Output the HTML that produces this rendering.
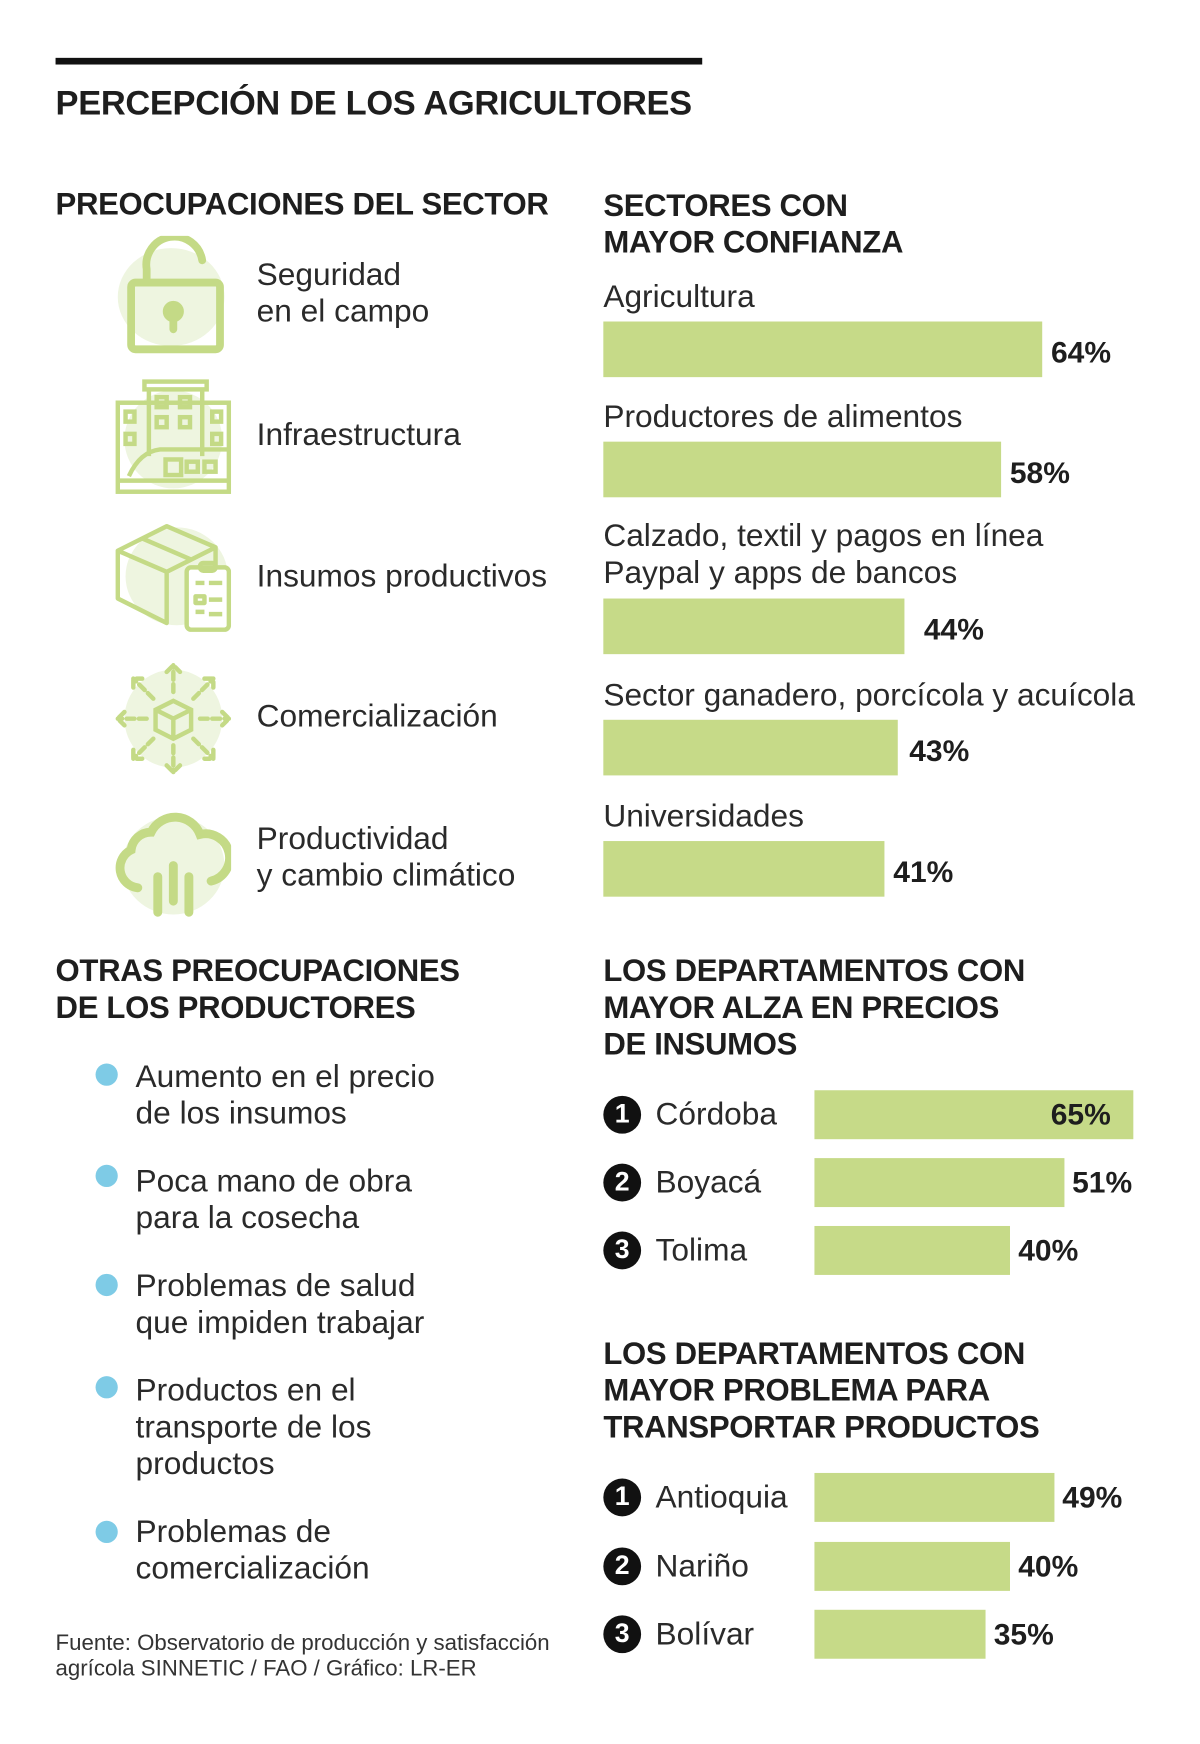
<!DOCTYPE html>
<html><head><meta charset="utf-8">
<style>
html,body{margin:0;padding:0;background:#fff;width:1200px;height:1744px;overflow:hidden}
#wrap{position:absolute;left:0;top:0;width:1080px;height:1560px;transform:scale(1.1111,1.1125);transform-origin:0 0;font-family:"Liberation Sans",sans-serif;color:#1e1e1e}
.t{position:absolute;white-space:nowrap}
.h{font-weight:bold;font-size:28px;line-height:33px;letter-spacing:-0.3px}
.l{font-size:28.5px;line-height:33px;color:#2a2a2a;letter-spacing:0px}
.v{font-weight:bold;font-size:27px;line-height:30px}
.bar{position:absolute;background:#c6da88}
.dot{position:absolute;width:20px;height:20px;border-radius:50%;background:#7ecbe6}
.num{position:absolute;width:34px;height:34px;border-radius:50%;background:#111;color:#fff;font-weight:bold;font-size:24px;line-height:34px;text-align:center}
svg.ic{position:absolute}
</style></head><body>
<div id="wrap">
<div style="position:absolute;left:50px;top:52px;width:582px;height:6px;background:#111"></div>
<div class="t h" style="left:50px;top:76px;font-size:31px">PERCEPCIÓN DE LOS AGRICULTORES</div>
<div class="t h" style="left:50px;top:167px">PREOCUPACIONES DEL SECTOR</div>

<svg class="ic" style="left:104px;top:212px" width="104" height="108" viewBox="0 0 104 108" fill="none" stroke="#c4da86" stroke-width="7" stroke-linecap="round">
<ellipse cx="50" cy="55" rx="48" ry="44" fill="#eef5e0" stroke="none"/>
<path d="M28 42 V30 A25 25 0 0 1 78 22"/><rect x="14" y="42" width="80" height="60" rx="4"/><circle cx="52" cy="68" r="6" fill="#c4da86"/><path d="M52 72 V84"/></svg>
<div class="t l" style="left:231px;top:231px">Seguridad<br>en el campo</div>

<svg class="ic" style="left:104px;top:340px" width="104" height="104" viewBox="0 0 104 104" fill="none" stroke="#c4da86" stroke-width="4">
<ellipse cx="52" cy="55" rx="44" ry="44" fill="#eef5e0" stroke="none"/>
<rect x="26" y="3" width="56" height="7"/><path d="M30 10 V70 M78 10 V70"/><rect x="2" y="22" width="100" height="80"/><path d="M2 92 H102"/>
<rect x="37" y="17" width="9" height="9"/><rect x="58" y="17" width="9" height="9"/><rect x="37" y="35" width="9" height="9"/><rect x="58" y="35" width="9" height="9"/>
<rect x="9" y="30" width="8" height="9"/><rect x="9" y="50" width="8" height="9"/><rect x="87" y="30" width="8" height="9"/><rect x="87" y="50" width="8" height="9"/>
<path d="M12 88 Q22 66 40 64 H102"/><rect x="45" y="73" width="14" height="14"/><rect x="64" y="75" width="10" height="9"/><rect x="80" y="75" width="10" height="9"/></svg>
<div class="t l" style="left:231px;top:375px">Infraestructura</div>

<svg class="ic" style="left:104px;top:470px" width="104" height="100" viewBox="0 0 104 100" fill="none" stroke="#c4da86" stroke-width="4" stroke-linejoin="round">
<ellipse cx="55" cy="48" rx="46" ry="44" fill="#eef5e0" stroke="none"/>
<path d="M2 25 L46 3 L90 22 L46 44 Z M2 25 V68 L46 90 V44 M90 22 V38 M24 14 L68 33"/>
<rect x="64" y="40" width="38" height="56" rx="4" fill="#fff"/><rect x="76" y="36" width="14" height="7" rx="3"/>
<path d="M72 54 h8 M84 54 h12 M72 66 h8 v6 h-8z M84 69 h12 M72 80 h8 M84 82 h12"/></svg>
<div class="t l" style="left:231px;top:502px">Insumos productivos</div>

<svg class="ic" style="left:104px;top:594px" width="104" height="104" viewBox="0 0 104 104" fill="none" stroke="#c4da86" stroke-width="4" stroke-linecap="round">
<ellipse cx="52" cy="52" rx="44" ry="44" fill="#eef5e0" stroke="none"/>
<path d="M36 44 L52 36 L68 44 V62 L52 70 L36 62 Z M36 44 L52 52 L68 44 M52 52 V70"/>
<path d="M52 28 V4 M46 10 L52 4 L58 10 M52 76 V100 M46 94 L52 100 L58 94 M28 52 H2 M8 46 L2 52 L8 58 M76 52 H102 M96 46 L102 52 L96 58 M34 34 L16 16 M16 24 V16 H24 M70 34 L88 16 M80 16 H88 V24 M34 70 L16 88 M16 80 V88 H24 M70 70 L88 88 M88 80 V88 H80" stroke-dasharray="7 4"/></svg>
<div class="t l" style="left:231px;top:628px">Comercialización</div>

<svg class="ic" style="left:104px;top:718px" width="104" height="108" viewBox="0 0 104 108" fill="none" stroke="#c4da86" stroke-width="8" stroke-linecap="round">
<ellipse cx="52" cy="60" rx="46" ry="44" fill="#eef5e0" stroke="none"/>
<path d="M20 80 A18 18 0 0 1 14 46 A18 18 0 0 1 32 30 A24 24 0 0 1 76 32 A20 20 0 0 1 86 74"/>
<path d="M38 70 V102 M52 60 V92 M66 70 V102"/></svg>
<div class="t l" style="left:231px;top:738px">Productividad<br>y cambio climático</div>

<div class="t h" style="left:50px;top:856px">OTRAS PREOCUPACIONES<br>DE LOS PRODUCTORES</div>
<div class="dot" style="left:86px;top:956px"></div>
<div class="t l" style="left:122px;top:952px">Aumento en el precio<br>de los insumos</div>
<div class="dot" style="left:86px;top:1047px"></div>
<div class="t l" style="left:122px;top:1046px">Poca mano de obra<br>para la cosecha</div>
<div class="dot" style="left:86px;top:1145px"></div>
<div class="t l" style="left:122px;top:1140px">Problemas de salud<br>que impiden trabajar</div>
<div class="dot" style="left:86px;top:1237px"></div>
<div class="t l" style="left:122px;top:1234px">Productos en el<br>transporte de los<br>productos</div>
<div class="dot" style="left:86px;top:1367px"></div>
<div class="t l" style="left:122px;top:1361px">Problemas de<br>comercialización</div>
<div class="t" style="left:50px;top:1466px;font-size:20px;line-height:23px;color:#333">Fuente: Observatorio de producción y satisfacción<br>agrícola SINNETIC / FAO / Gráfico: LR-ER</div>

<div class="t h" style="left:543px;top:168px">SECTORES CON<br>MAYOR CONFIANZA</div>
<div id="trust"></div>
<div class="t h" style="left:543px;top:856px">LOS DEPARTAMENTOS CON<br>MAYOR ALZA EN PRECIOS<br>DE INSUMOS</div>
<div id="prices"></div>
<div class="t h" style="left:543px;top:1200px">LOS DEPARTAMENTOS CON<br>MAYOR PROBLEMA PARA<br>TRANSPORTAR PRODUCTOS</div>
<div id="transport"></div>
</div>
<script>
const trustCats=["Agricultura","Productores de alimentos","Calzado, textil y pagos en línea<br>Paypal y apps de bancos","Sector ganadero, porcícola y acuícola","Universidades"];
const trustVals=[64,58,44,43,41];
const priceCats=["Córdoba","Boyacá","Tolima"];
const priceVals=[65,51,40];
const transCats=["Antioquia","Nariño","Bolívar"];
const transVals=[49,40,35];

const trustX=v=>v*6.17;
const deptX=v=>v*4.41;
function mk(parent,cls,style,html){const d=document.createElement('div');d.className=cls;d.style.cssText=style;if(html!==undefined)d.innerHTML=html;parent.appendChild(d);return d;}

const trust=document.getElementById('trust');
const trustBarTops=[289,397,538,647,756];
trustCats.forEach((c,i)=>{
  const top=trustBarTops[i];
  const two=c.includes('<br>');
  const lab=mk(trust,'t l','left:543px;top:'+(top-(two?72:38))+'px',c);
  
  
  const w=trustX(trustVals[i]);
  const b=mk(trust,'bar','left:543px;top:'+top+'px;width:'+w+'px;height:50px');
  
  
  const gap=(i===2||i===3)?(i===2?17:10):8;
  const v=mk(trust,'t v','left:'+(543+w+gap)+'px;top:'+(top+13)+'px',trustVals[i]+'%');
  
  
});

function dept(id,cats,vals,tops,inside){
  const p=document.getElementById(id);
  cats.forEach((c,i)=>{
    const top=tops[i];
    const n=mk(p,'num','left:543px;top:'+(top+5)+'px',String(i+1));
    
    
    const l=mk(p,'t l','left:590px;top:'+(top+6)+'px',c);
    
    
    const w=deptX(vals[i]);
    const b=mk(p,'bar','left:733px;top:'+top+'px;width:'+w+'px;height:44px');
    
    
    let st;
    if(inside&&i===0) st='left:'+(733+w-74)+'px;top:'+(top+7)+'px';
    else st='left:'+(733+w+7)+'px;top:'+(top+7)+'px';
    const v=mk(p,'t v',st,vals[i]+'%');
    
    
  });
}
dept('prices',priceCats,priceVals,[980,1041,1102],true);
dept('transport',transCats,transVals,[1324,1386,1447],false);
</script>
</body></html>
